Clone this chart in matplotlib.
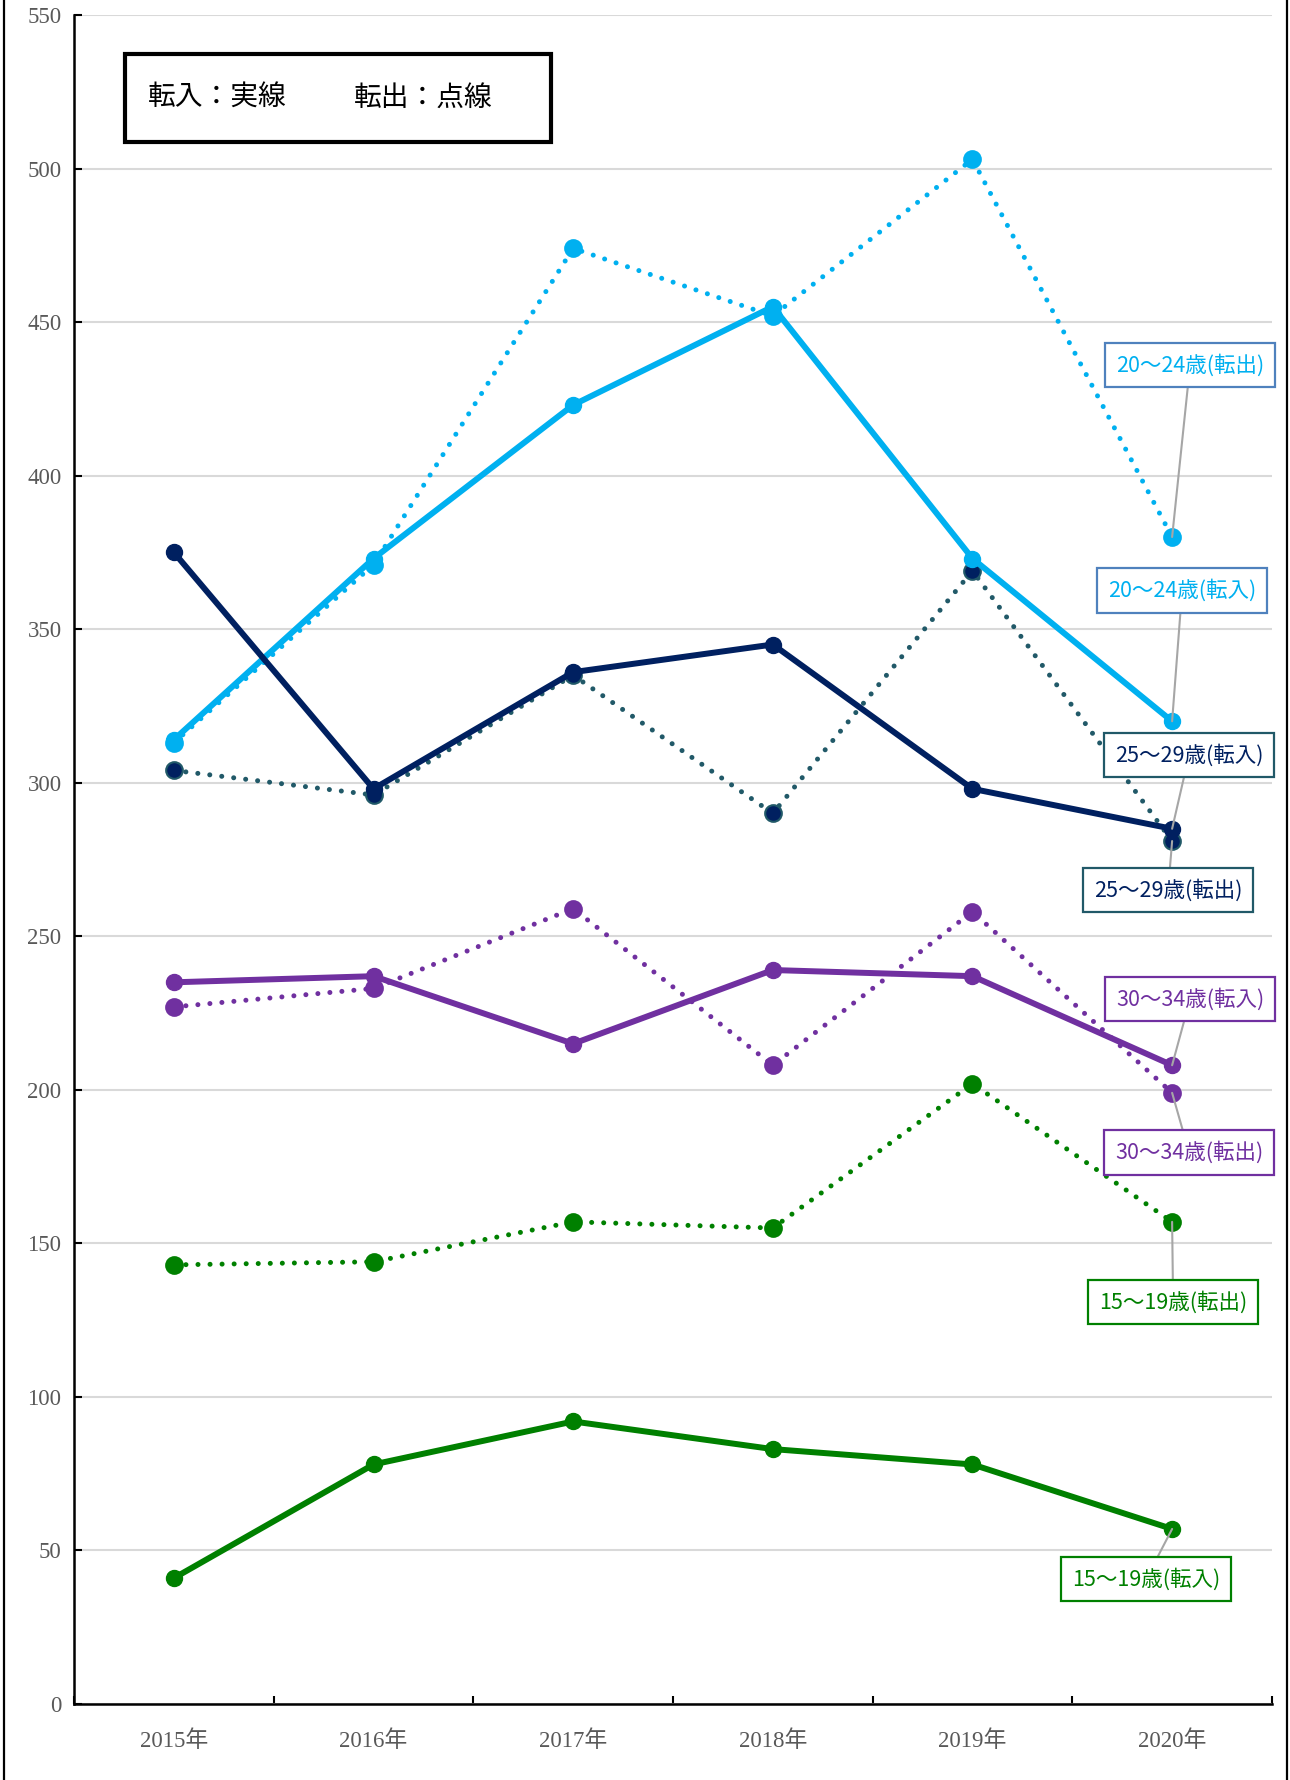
import matplotlib
matplotlib.use("Agg")
import matplotlib.pyplot as plt
from matplotlib.patches import Rectangle
from matplotlib.lines import Line2D

years = ["2015年", "2016年", "2017年", "2018年", "2019年", "2020年"]

# 転入 (solid)
in_15_19 = [41, 78, 92, 83, 78, 57]
in_20_24 = [314, 373, 423, 455, 373, 320]
in_25_29 = [375, 298, 336, 345, 298, 285]
in_30_34 = [235, 237, 215, 239, 237, 208]

# 転出 (dotted)
out_15_19 = [143, 144, 157, 155, 202, 157]
out_20_24 = [313, 371, 474, 452, 503, 380]
out_25_29 = [304, 296, 335, 290, 369, 281]
out_30_34 = [227, 233, 259, 208, 258, 199]

serif = ["Liberation Serif", "Noto Sans CJK JP"]
jp = ["Noto Sans CJK JP", "DejaVu Sans"]

fig = plt.figure(figsize=(12.9, 17.8), dpi=100)
ax = fig.add_axes([0.0574, 0.0427, 0.9286, 0.9489])

x = list(range(len(years)))

# colours: (line in, line out, marker face of out, label text, label edge)
series = [
    ("15〜19歳", in_15_19, out_15_19, "#008000", "#008000", "#008000", "#008000", "#008000"),
    ("20〜24歳", in_20_24, out_20_24, "#00B0F0", "#00B0F0", "#00B0F0", "#00B0F0", "#4F81BD"),
    ("25〜29歳", in_25_29, out_25_29, "#002060", "#215968", "#002060", "#002060", "#215968"),
    ("30〜34歳", in_30_34, out_30_34, "#7030A0", "#7030A0", "#7030A0", "#7030A0", "#7030A0"),
]

dotted = (0, (0.01, 2.4))
for name, vin, vout, c_in, c_out, c_mk, c_txt, c_edge in series:
    ax.plot(x, vout, color=c_out, lw=3.6, linestyle=dotted, dash_capstyle="round",
            marker="o", markersize=12, markerfacecolor=c_mk, markeredgecolor=c_out,
            markeredgewidth=1.5, zorder=3)
for name, vin, vout, c_in, c_out, c_mk, c_txt, c_edge in series:
    ax.plot(x, vin, color=c_in, lw=4.3, marker="o", markersize=11.5,
            markerfacecolor=c_in, markeredgecolor=c_in, zorder=4)

# data labels at 2020 (box centre in data coords)
labels = [
    ("20〜24歳(転出)", out_20_24, (5.09, 436), 1),
    ("20〜24歳(転入)", in_20_24, (5.05, 362.6), 1),
    ("25〜29歳(転入)", in_25_29, (5.085, 309), 2),
    ("25〜29歳(転出)", out_25_29, (4.98, 265), 2),
    ("30〜34歳(転入)", in_30_34, (5.09, 229.5), 3),
    ("30〜34歳(転出)", out_30_34, (5.085, 179.6), 3),
    ("15〜19歳(転出)", out_15_19, (5.005, 130.8), 0),
    ("15〜19歳(転入)", in_15_19, (4.87, 40.7), 0),
]
for text, vals, pos, idx in labels:
    s = series[idx]
    ax.annotate(text, xy=(5, vals[5]), xytext=pos, ha="center", va="center",
                fontsize=15.5, family=jp, color=s[6],
                bbox=dict(boxstyle="square,pad=0.5", fc="white", ec=s[7], lw=1.6),
                arrowprops=dict(arrowstyle="-", color="#A6A6A6", lw=1.5,
                                shrinkA=0, shrinkB=0),
                zorder=6)

# note box: 転入 solid / 転出 dotted
ax.add_patch(Rectangle((-0.245, 508.6), 2.135, 28.8, fill=False, ec="black", lw=3,
                       zorder=5))
ax.text(-0.131, 523, "転入：実線", family=jp, fontsize=20,
        va="center", ha="left", color="black", zorder=5)
ax.text(0.90, 523, "転出：点線", family=jp, fontsize=20,
        va="center", ha="left", color="black", zorder=5)

ax.set_xlim(-0.5, 5.5)
ax.set_ylim(0, 550)
ax.set_yticks(range(0, 551, 50))
ax.set_xticks(x)
ax.set_xticklabels(years)
ax.set_xticks([i - 0.5 for i in range(len(years) + 1)], minor=True)
ax.yaxis.grid(True, color="#D9D9D9", lw=1.5)
ax.set_axisbelow(True)

for t in ax.get_xticklabels() + ax.get_yticklabels():
    t.set_family(serif)
    t.set_fontsize(16.5)
    t.set_color("#595959")

ax.tick_params(axis="x", which="major", length=0, pad=19)
ax.tick_params(axis="x", which="minor", direction="in", length=6, width=1.5)
ax.tick_params(axis="y", direction="in", length=6, width=1.5, pad=9)

ax.spines["top"].set_visible(False)
ax.spines["right"].set_visible(False)
ax.spines["left"].set_linewidth(1.8)
ax.spines["bottom"].set_linewidth(1.8)

# figure frame lines on both sides
fig.add_artist(Line2D([0.003, 0.003], [0, 1], color="black", lw=1.6))
fig.add_artist(Line2D([0.9975, 0.9975], [0, 1], color="black", lw=1.6))

fig.savefig("out.png", dpi=100)
